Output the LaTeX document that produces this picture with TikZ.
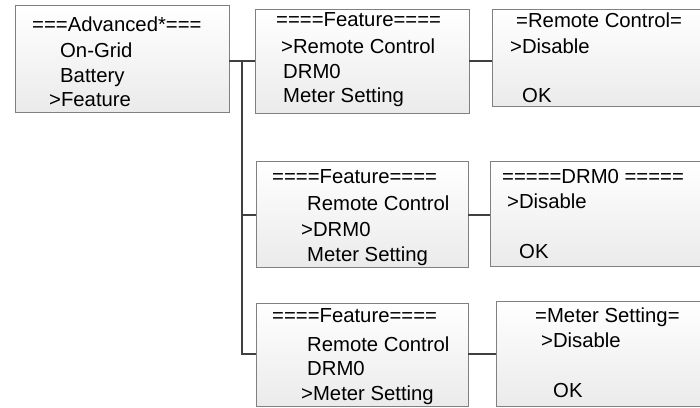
\documentclass[tikz,border=0pt]{standalone}
\usepackage{fontspec}
\setmainfont{Liberation Sans}
\begin{document}
\begin{tikzpicture}[x=1pt,y=-1pt,
  screen/.style={draw=black!50, line width=0.8pt, top color=white, bottom color=black!8, inner sep=0pt},
  txt/.style={anchor=base west, inner sep=0pt, font=\fontsize{20.3}{24}\selectfont},
  link/.style={draw=black!75, line width=1.4pt}]
\useasboundingbox (0,0) rectangle (700,407);
\clip (0,0) rectangle (700,407);
% boxes
\node[screen, minimum width=214pt, minimum height=107pt] (A) at (122,58.5) {};
\node[screen, minimum width=214pt, minimum height=104pt] (B1) at (362,61) {};
\node[screen, minimum width=220pt, minimum height=97pt] (C1) at (602,57.5) {};
\node[screen, minimum width=212pt, minimum height=106pt] (B2) at (362,214) {};
\node[screen, minimum width=222pt, minimum height=105pt] (C2) at (601,213.5) {};
\node[screen, minimum width=212pt, minimum height=103pt] (B3) at (362,354.5) {};
\node[screen, minimum width=216pt, minimum height=105pt] (C3) at (604,353.5) {};
% texts A
\node[txt] (a1) at (32,31) {===Advanced*===};
\node[txt] (a2) at (60,57) {On-Grid};
\node[txt] (a3) at (60,82) {Battery};
\node[txt] (a4) at (49,106) {>Feature};
% texts B1
\node[txt] (b11) at (276,26) {====Feature====};
\node[txt] (b12) at (281,53) {>Remote Control};
\node[txt] (b13) at (283,78) {DRM0};
\node[txt] (b14) at (283,102) {Meter Setting};
% texts C1
\node[txt] (c11) at (516,27) {=Remote Control=};
\node[txt] (c12) at (510,53) {>Disable};
\node[txt] (c13) at (522,102) {OK};
% texts B2
\node[txt] (b21) at (272,183) {====Feature====};
\node[txt] (b22) at (307,210) {Remote Control};
\node[txt] (b23) at (301,236) {>DRM0};
\node[txt] (b24) at (307,261) {Meter Setting};
% texts C2
\node[txt] (c21) at (502,183) {=====DRM0 =====};
\node[txt] (c22) at (507,208) {>Disable};
\node[txt] (c23) at (519,258) {OK};
% texts B3
\node[txt] (b31) at (272,322) {====Feature====};
\node[txt] (b32) at (307,351) {Remote Control};
\node[txt] (b33) at (307,375) {DRM0};
\node[txt] (b34) at (301,400) {>Meter Setting};
% texts C3
\node[txt] (c31) at (535,322) {=Meter Setting=};
\node[txt] (c32) at (541,347) {>Disable};
\node[txt] (c33) at (553,397) {OK};
% connectors
\coordinate (j1) at (242,61);
\coordinate (j2) at (242,215);
\coordinate (j3) at (242,354);
\draw[link] (A.east |- j1) -- (j1) -- (B1.west |- j1);
\draw[link] (j1) -- (j3) -- (B3.west |- j3);
\draw[link] (j2) -- (B2.west |- j2);
\draw[link] (B1.east |- j1) -- (C1.west |- j1);
\draw[link] (B2.east |- j2) -- (C2.west |- j2);
\draw[link] (B3.east |- j3) -- (C3.west |- j3);
\end{tikzpicture}
\end{document}
